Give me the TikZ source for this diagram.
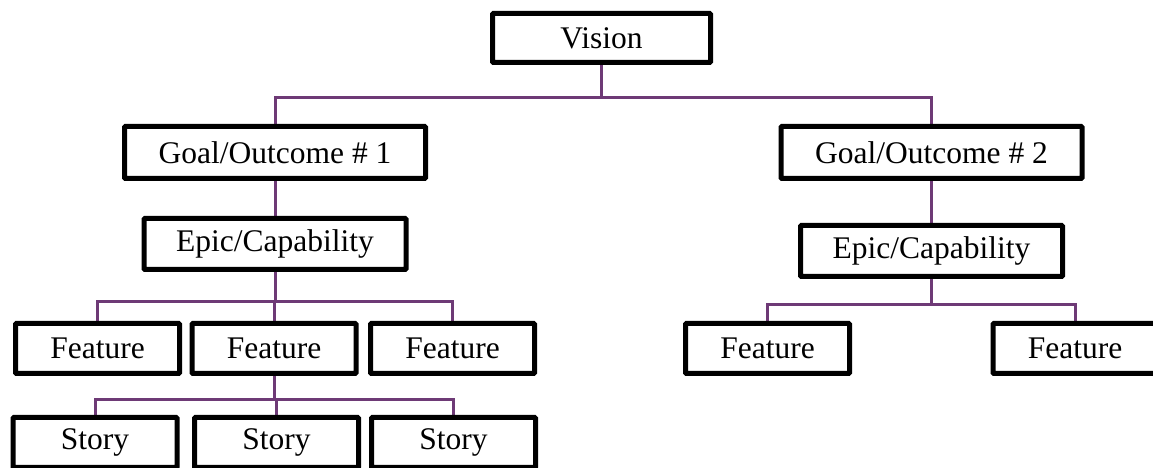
\documentclass[tikz,border=0pt]{standalone}
\usepackage{fontspec}
\setmainfont{Liberation Serif}
\usepackage{tikz}
\usetikzlibrary{positioning,backgrounds}
\definecolor{linkpurple}{RGB}{110,58,118}
\newcommand{\newBox}[4]{\node[box,#3](#1)[#4]{#2};}
\newcommand{\newLink}[3]{\draw[link] (#1.south) -- ++(0,-#3) -| (#2.north);}

\begin{document}
\begin{tikzpicture}[
    % units are pixels of the page
    x=1pt,y=1pt,
    % Box look: thick black frame
    box/.style={draw=black,line width=5pt,rounded corners=1pt,fill=white,
      inner sep=0pt,font=\fontsize{31.5}{34}\selectfont},
    goalbox/.style={minimum width=301pt,minimum height=52pt},
    epicbox/.style={minimum width=262pt,minimum height=51pt},
    leafbox/.style={minimum width=164pt,minimum height=50pt},
    % Connector stroke
    link/.style={draw=linkpurple,line width=3pt}
    ]

    \useasboundingbox (0,0) rectangle (1153,468);

    \newBox{vision}{Vision}{minimum width=218pt,minimum height=49pt}{at={(601.5,430)}}

    \newBox{g1}{Goal/Outcome \# 1}{goalbox}{at={(275,315.5)}}
    \newBox{g2}{Goal/Outcome \# 2}{goalbox}{at={(931.5,315.5)}}

    \newBox{e1}{Epic/Capability}{epicbox}{at={(275,224)}}
    \newBox{e2}{Epic/Capability}{epicbox}{at={(931.5,217)}}

    \newBox{f1}{Feature}{leafbox}{at={(97.5,119.5)}}
    \newBox{f2}{Feature}{leafbox}{at={(274,119.5)}}
    \newBox{f3}{Feature}{leafbox}{at={(452.5,119.5)}}
    \newBox{f4}{Feature}{leafbox}{at={(767.5,119.5)}}
    \newBox{f5}{Feature}{leafbox}{at={(1075,119.5)}}

    \newBox{s1}{Story}{leafbox}{at={(95,25.5)}}
    \newBox{s2}{Story}{leafbox}{at={(276.5,25.5)}}
    \newBox{s3}{Story}{leafbox}{at={(453.5,25.5)}}

    % links go behind the boxes
    \begin{scope}[on background layer]
    \newLink{vision}{g1}{32.5}
    \newLink{vision}{g2}{32.5}
    \newLink{g1}{e1}{0}
    \newLink{g2}{e2}{0}
    \newLink{e1}{f1}{29.5}
    \newLink{e1}{f2}{29.5}
    \newLink{e1}{f3}{29.5}
    \newLink{e2}{f4}{25.5}
    \newLink{e2}{f5}{25.5}
    \newLink{f2}{s1}{23.5}
    \newLink{f2}{s2}{23.5}
    \newLink{f2}{s3}{23.5}
    \end{scope}
  \end{tikzpicture}
\end{document}
